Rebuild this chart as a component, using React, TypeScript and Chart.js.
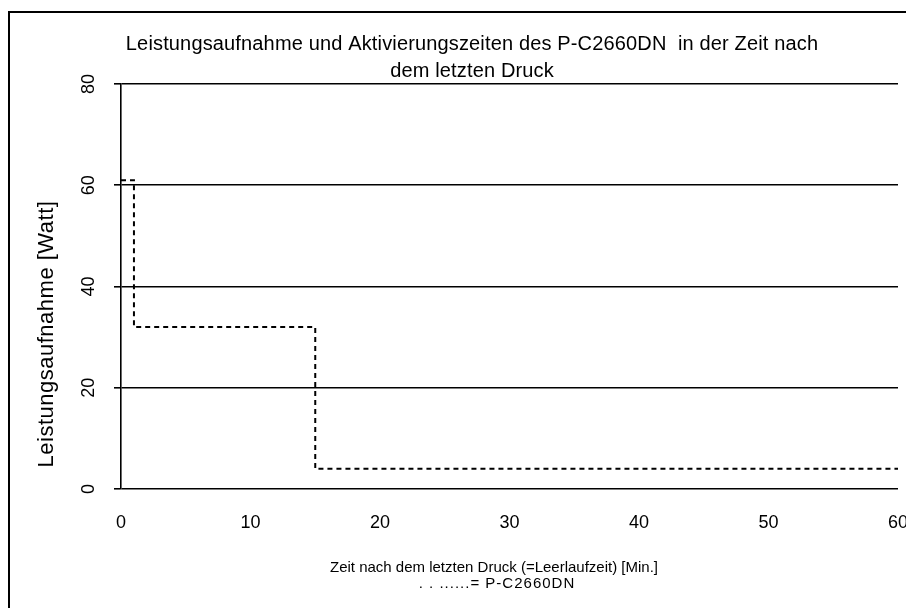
import React, { useEffect, useRef } from 'react';
import { Chart, registerables } from 'chart.js';

Chart.register(...registerables);

// Data
const idleMinutes = [0, 1, 15, 60];
const powerWatt = [61, 32, 4, 4];
const xTickValues = [0, 10, 20, 30, 40, 50, 60];
const yTickValues = [0, 20, 40, 60, 80];
const titleLines = [
  'Leistungsaufnahme und Aktivierungszeiten des P-C2660DN  in der Zeit nach',
  'dem letzten Druck',
];
const yAxisTitle = 'Leistungsaufnahme [Watt]';
const xAxisTitleLines = [
  'Zeit nach dem letzten Druck (=Leerlaufzeit) [Min.]',
  '. . ......= P-C2660DN',
];

const FONT = '"Liberation Sans", Arial, sans-serif';

const decorPlugin = {
  id: 'decor',
  afterDraw(chart: any) {
    const ctx = chart.ctx as CanvasRenderingContext2D;
    ctx.save();
    // outer frame
    ctx.strokeStyle = '#000';
    ctx.lineWidth = 2;
    ctx.beginPath();
    ctx.moveTo(9, 608);
    ctx.lineTo(9, 12);
    ctx.lineTo(906, 12);
    ctx.stroke();

    ctx.fillStyle = '#000';
    ctx.textAlign = 'center';
    ctx.textBaseline = 'middle';

    // title
    ctx.font = `20px ${FONT}`;
    (ctx as any).letterSpacing = '0.15px';
    ctx.fillText(titleLines[0], 472, 44);
    ctx.fillText(titleLines[1], 472, 71);
    (ctx as any).letterSpacing = '0px';

    // y tick labels (rotated)
    const ys = chart.scales.y;
    ctx.font = `18px ${FONT}`;
    yTickValues.forEach((v) => {
      const py = ys.getPixelForValue(v);
      ctx.save();
      ctx.translate(89, py);
      ctx.rotate(-Math.PI / 2);
      ctx.fillText(String(v), 0, 0);
      ctx.restore();
    });

    // y axis title
    ctx.save();
    ctx.translate(47, 334);
    ctx.rotate(-Math.PI / 2);
    ctx.font = `22px ${FONT}`;
    (ctx as any).letterSpacing = '0.5px';
    ctx.fillText(yAxisTitle, 0, 0);
    (ctx as any).letterSpacing = '0px';
    ctx.restore();

    // x axis title
    ctx.font = `15px ${FONT}`;
    ctx.fillText(xAxisTitleLines[0], 494, 568);
    (ctx as any).letterSpacing = '1px';
    ctx.fillText(xAxisTitleLines[1], 497, 584);
    (ctx as any).letterSpacing = '0px';
    ctx.restore();
  },
};

export default function App() {
  const canvasRef = useRef<HTMLCanvasElement | null>(null);

  useEffect(() => {
    document.body.style.margin = '0';
    const canvas = canvasRef.current;
    if (!canvas) return;
    const chart = new Chart(canvas, {
      type: 'line',
      data: {
        datasets: [
          {
            label: 'P-C2660DN',
            data: idleMinutes.map((x, i) => ({ x, y: powerWatt[i] })),
            stepped: 'before',
            borderColor: '#000',
            borderWidth: 2,
            borderDash: [5, 4],
            pointRadius: 0,
            fill: false,
          },
        ],
      },
      options: {
        responsive: false,
        animation: false,
        layout: { padding: { top: 84, right: 8, left: 0, bottom: 0 } },
        plugins: {
          legend: { display: false },
          title: { display: false },
          tooltip: { enabled: false },
        },
        scales: {
          x: {
            type: 'linear',
            min: 0,
            max: 60,
            afterFit: (s: any) => {
              s.height = 119;
              s.paddingLeft = 0;
              s.paddingRight = 0;
            },
            afterBuildTicks: (s: any) => {
              s.ticks = xTickValues.map((v) => ({ value: v }));
            },
            grid: { display: false, drawTicks: false },
            border: { display: false },
            ticks: {
              color: '#000',
              font: { family: FONT, size: 18 },
              padding: 23,
              maxRotation: 0,
              autoSkip: false,
            },
          },
          y: {
            type: 'linear',
            min: 0,
            max: 80,
            afterFit: (s: any) => {
              s.width = 121;
              s.paddingTop = 0;
              s.paddingBottom = 0;
            },
            afterBuildTicks: (s: any) => {
              s.ticks = yTickValues.map((v) => ({ value: v }));
            },
            grid: {
              color: '#000',
              lineWidth: 1.6,
              drawTicks: true,
              tickLength: 7,
            },
            border: { display: true, color: '#000', width: 1.6 },
            ticks: { display: false },
          },
        },
      },
      plugins: [decorPlugin],
    });
    return () => chart.destroy();
  }, []);

  return (
    <div style={{ position: 'absolute', left: 0, top: 0, width: 906, height: 608, background: '#fff' }}>
      <canvas ref={canvasRef} width={906} height={608} style={{ display: 'block', width: 906, height: 608 }} />
    </div>
  );
}
